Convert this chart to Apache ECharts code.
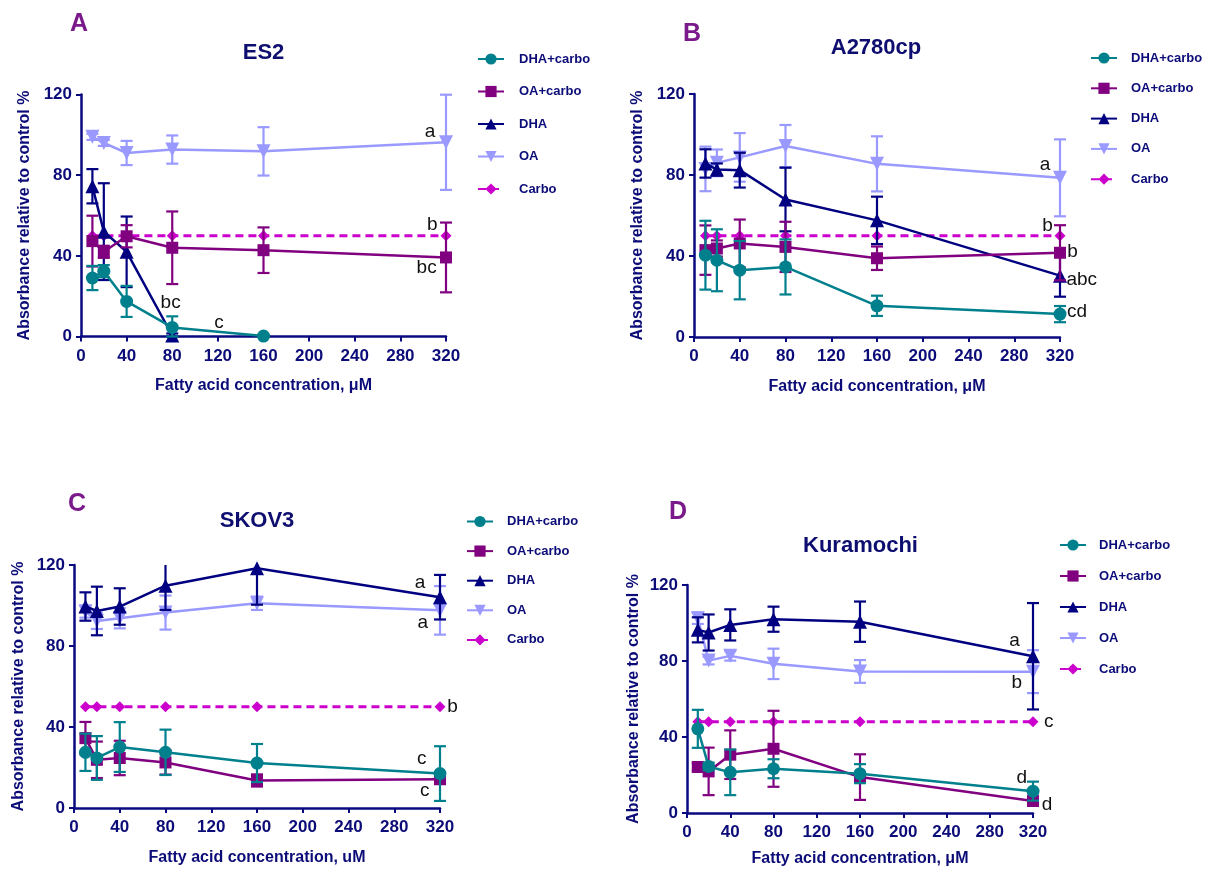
<!DOCTYPE html>
<html>
<head>
<meta charset="utf-8">
<script src="https://cdn.jsdelivr.net/npm/echarts@6/dist/echarts.min.js"></script>
<style>
  html, body { margin: 0; padding: 0; background: #ffffff; }
  #chart { width: 1211px; height: 871px; }
</style>
</head>
<body>
<div id="chart"></div>
<script>
// ---- Data: viability (% of control) vs. fatty acid concentration ----
const conc = [10, 20, 40, 80, 160, 320];
const xTicks = [0, 40, 80, 120, 160, 200, 240, 280, 320];
const groupNames = ['DHA+carbo', 'OA+carbo', 'DHA', 'OA', 'Carbo'];

// ES2
const es2DhaCarbo = [29, 32.4, 17.4, 4.5, 0.2];
const es2DhaCarboErr = [6, 3, 7.7, 5.5, 0.5];
const es2OaCarbo = [47.3, 42, 49.7, 44, 42.8, 39.2];
const es2OaCarboErr = [12.6, 3, 5.5, 18, 11.3, 17.3];
const es2Dha = [74.5, 52, 42, 0.5];
const es2DhaErr = [8.5, 24, 17.5, 1];
const es2Oa = [99, 96, 91, 92.7, 91.8, 96.3];
const es2OaErr = [1.5, 1.5, 6, 7, 12, 23.6];
const es2Carbo = [50, 50, 50, 50, 50, 50];
const es2Letters = [[306, 101.5, 'a'], [308, 55.4, 'b'], [303, 34, 'bc'], [78.6, 16.5, 'bc'], [121, 6.6, 'c']];

// A2780cp
const a2780DhaCarbo = [40.4, 37.9, 33, 34.6, 15.4, 11.3];
const a2780DhaCarboErr = [17, 15.3, 14.4, 13.6, 5, 4];
const a2780OaCarbo = [42.9, 43.7, 46.2, 44.5, 38.9, 41.6];
const a2780OaCarboErr = [12.2, 4, 11.8, 12.4, 5.8, 13.6];
const a2780Dha = [85.7, 82.7, 82.4, 67.9, 57.6, 30.3];
const a2780DhaErr = [7, 3, 8.6, 15.7, 11.7, 10.4];
const a2780Oa = [83, 86, 88.7, 94.3, 85.5, 78.6];
const a2780OaErr = [11, 6.6, 12, 10.4, 13.6, 19];
const a2780Carbo = [50, 50, 50, 50, 50, 50];
const a2780Letters = [[307, 85, 'a'], [309, 54.8, 'b'], [331, 42.1, 'b'], [339, 28.5, 'abc'], [335, 12.4, 'cd']];

// SKOV3
const skov3DhaCarbo = [27.5, 24.7, 30.1, 27.5, 22.2, 17];
const skov3DhaCarboErr = [9.2, 10.8, 12.3, 11.2, 9.4, 13.5];
const skov3OaCarbo = [34.5, 23.8, 24.7, 22.5, 13.6, 14.2];
const skov3OaCarboErr = [8, 9, 8.5, 6, 3, 2];
const skov3Dha = [99.5, 97.3, 99.5, 109.8, 118.4, 104.1];
const skov3DhaErr = [7, 12, 9, 12, 18, 11];
const skov3Oa = [97, 92.4, 93.7, 96.5, 101.1, 97.6];
const skov3OaErr = [3, 4, 5, 8.4, 3.3, 12];
const skov3Carbo = [50, 50, 50, 50, 50, 50];
const skov3Letters = [[302.5, 111.2, 'a'], [305, 91.6, 'a'], [331, 50, 'b'], [304, 24.3, 'c'], [306.7, 8.7, 'c']];

// Kuramochi
const kuraDhaCarbo = [44.3, 24.5, 21.4, 23.3, 20.7, 11.5];
const kuraDhaCarboErr = [10, 2, 12, 5, 5, 5];
const kuraOaCarbo = [24.2, 21.9, 30.7, 33.8, 18.9, 6.3];
const kuraOaCarboErr = [2, 12.5, 12.8, 20, 12, 1.5];
const kuraDha = [96.4, 95, 99, 102, 100.7, 82.5];
const kuraDhaErr = [6.6, 9.5, 8.2, 6.6, 10.6, 28];
const kuraOa = [102.5, 80.2, 82.7, 78.5, 74.5, 74.4];
const kuraOaErr = [3, 2, 2.5, 8, 6, 11.3];
const kuraCarbo = [48, 48, 48, 48, 48, 48];
const kuraLetters = [[303, 90.6, 'a'], [305, 68.6, 'b'], [334.6, 47.8, 'c'], [309.6, 18.5, 'd'], [333, 4.5, 'd']];

// ---- Panel definitions (layout kept apart from the values) ----
const panelData = [
  { letter: 'A', title: 'ES2', xName: 'Fatty acid concentration, \u03bcM',
    groups: [[es2DhaCarbo, es2DhaCarboErr], [es2OaCarbo, es2OaCarboErr], [es2Dha, es2DhaErr], [es2Oa, es2OaErr], [es2Carbo, null]],
    letters: es2Letters },
  { letter: 'B', title: 'A2780cp', xName: 'Fatty acid concentration, \u03bcM',
    groups: [[a2780DhaCarbo, a2780DhaCarboErr], [a2780OaCarbo, a2780OaCarboErr], [a2780Dha, a2780DhaErr], [a2780Oa, a2780OaErr], [a2780Carbo, null]],
    letters: a2780Letters },
  { letter: 'C', title: 'SKOV3', xName: 'Fatty acid concentration, uM',
    groups: [[skov3DhaCarbo, skov3DhaCarboErr], [skov3OaCarbo, skov3OaCarboErr], [skov3Dha, skov3DhaErr], [skov3Oa, skov3OaErr], [skov3Carbo, null]],
    letters: skov3Letters },
  { letter: 'D', title: 'Kuramochi', xName: 'Fatty acid concentration, \u03bcM',
    groups: [[kuraDhaCarbo, kuraDhaCarboErr], [kuraOaCarbo, kuraOaCarboErr], [kuraDha, kuraDhaErr], [kuraOa, kuraOaErr], [kuraCarbo, null]],
    letters: kuraLetters }
];

const layout = [
  { grid: { left: 81, top: 94.5, width: 365, height: 242 }, yGap: 48, xGap: 41,
    letterPos: [70, 12], titlePos: [263.5, 42], legend: { left: 477, top: 52, gap: 18.5, textGap: 15 } },
  { grid: { left: 694, top: 94, width: 366, height: 243 }, yGap: 48, xGap: 42,
    letterPos: [683, 22], titlePos: [876, 37], legend: { left: 1090, top: 51, gap: 16.3, textGap: 14 } },
  { grid: { left: 74, top: 565, width: 366, height: 243 }, yGap: 47, xGap: 42,
    letterPos: [68, 492], titlePos: [257, 510], legend: { left: 466, top: 514.5, gap: 15.6, textGap: 14 } },
  { grid: { left: 687, top: 585, width: 346, height: 228 }, yGap: 45, xGap: 38,
    letterPos: [669, 500], titlePos: [860.5, 535], legend: { left: 1059, top: 538, gap: 17, textGap: 13 } }
];

const groupStyle = [
  { color: '#00808c', symbol: 'circle', size: 13, rotate: 0, dash: 'solid' },
  { color: '#800080', symbol: 'rect', size: 12, rotate: 0, dash: 'solid' },
  { color: '#000080', symbol: 'triangle', size: 14, rotate: 0, dash: 'solid' },
  { color: '#9999ff', symbol: 'triangle', size: 14, rotate: 180, dash: 'solid' },
  { color: '#cc00cc', symbol: 'diamond', size: 11, rotate: 0, dash: [8, 5] }
];
// drawing order: Carbo at the back, DHA+carbo in front
const zOrder = [10, 8, 6, 4, 2];

const FONT = '"Liberation Sans", Arial, Helvetica, sans-serif';
const NAVY = '#0c0c78';
const AXIS = '#0a0a80';
const Y_MAX = 120;

const grids = [], xAxes = [], yAxes = [], series = [], titles = [], legends = [];

panelData.forEach((pd, p) => {
  const L = layout[p];
  grids.push(Object.assign({ containLabel: false }, L.grid));

  xAxes.push({
    gridIndex: p, type: 'value', min: 0, max: 320, interval: 40,
    name: pd.xName, nameLocation: 'middle', nameGap: L.xGap,
    nameTextStyle: { color: NAVY, fontFamily: FONT, fontWeight: 'bold', fontSize: 16 },
    axisLine: { show: true, lineStyle: { color: AXIS, width: 2.5 } },
    axisTick: { show: true, inside: false, length: 5, lineStyle: { color: AXIS, width: 2 } },
    axisLabel: { color: NAVY, fontFamily: FONT, fontWeight: 'bold', fontSize: 17, margin: 11,
                 customValues: xTicks },
    splitLine: { show: false }
  });
  yAxes.push({
    gridIndex: p, type: 'value', min: 0, max: Y_MAX, interval: 40,
    name: 'Absorbance relative to control %', nameLocation: 'middle', nameGap: L.yGap,
    nameTextStyle: { color: NAVY, fontFamily: FONT, fontWeight: 'bold', fontSize: 16 },
    axisLine: { show: true, lineStyle: { color: AXIS, width: 2.5 } },
    axisTick: { show: true, inside: false, length: 5, lineStyle: { color: AXIS, width: 2 } },
    axisLabel: { color: NAVY, fontFamily: FONT, fontWeight: 'bold', fontSize: 17, margin: 9 },
    splitLine: { show: false }
  });

  titles.push({
    text: pd.letter, left: L.letterPos[0], top: L.letterPos[1], padding: 0,
    textStyle: { color: '#7a1a8a', fontFamily: FONT, fontWeight: 'bold', fontSize: 25 }
  });
  titles.push({
    text: pd.title, left: L.titlePos[0], top: L.titlePos[1], padding: 0, textAlign: 'center',
    textStyle: { color: '#0e0e70', fontFamily: FONT, fontWeight: 'bold', fontSize: 22 }
  });

  legends.push({
    data: groupNames, orient: 'vertical', left: L.legend.left, top: L.legend.top,
    itemWidth: 26, itemHeight: 14, itemGap: L.legend.gap, padding: 0,
    selectedMode: false,
    textStyle: { color: NAVY, fontFamily: FONT, fontWeight: 'bold', fontSize: 13,
                 padding: [0, 0, 0, L.legend.textGap - 5], lineHeight: 14 }
  });

  pd.groups.forEach(([means, errs], g) => {
    const st = groupStyle[g];
    const pts = means.map((v, i) => [conc[i], v]);
    const z = zOrder[g];

    if (errs) {
      const bars = errs.map((e, i) => [conc[i], means[i] - e, means[i] + e, e]).filter(b => b[3] > 0);
      series.push({
        type: 'custom', name: pd.title + ' ' + groupNames[g] + ' SEM',
        xAxisIndex: p, yAxisIndex: p, z: z, silent: true,
        encode: { x: 0, y: [1, 2] },
        data: bars,
        renderItem: (params, api) => {
          const x = api.value(0);
          const lo = Math.max(api.value(1), 0);
          const hiRaw = api.value(2);
          const hi = Math.min(hiRaw, Y_MAX);
          const top = api.coord([x, hi]);
          const bot = api.coord([x, lo]);
          const hw = 6;
          const style = { stroke: st.color, lineWidth: 2.2 };
          const children = [
            { type: 'line', shape: { x1: top[0], y1: top[1], x2: bot[0], y2: bot[1] }, style: style },
            { type: 'line', shape: { x1: bot[0] - hw, y1: bot[1], x2: bot[0] + hw, y2: bot[1] }, style: style }
          ];
          if (hiRaw <= Y_MAX) {
            children.push({ type: 'line', shape: { x1: top[0] - hw, y1: top[1], x2: top[0] + hw, y2: top[1] }, style: style });
          }
          return { type: 'group', children: children };
        }
      });
    }

    series.push({
      type: 'line', name: groupNames[g], xAxisIndex: p, yAxisIndex: p, z: z + 1,
      data: pts, symbol: st.symbol, symbolSize: st.size, symbolRotate: st.rotate,
      showSymbol: true, animation: false, silent: true,
      lineStyle: { color: st.color, width: g === 4 ? 3 : 2.5, type: st.dash },
      itemStyle: { color: st.color, borderWidth: 0 }
    });
  });

  // significance letters, placed in data coordinates
  series.push({
    type: 'custom', name: pd.title + ' letters', xAxisIndex: p, yAxisIndex: p, z: 20,
    silent: true, clip: false,
    data: pd.letters,
    encode: { x: 0, y: 1 },
    renderItem: (params, api) => {
      const c = api.coord([api.value(0), api.value(1)]);
      return {
        type: 'text', x: c[0], y: c[1],
        style: { text: pd.letters[params.dataIndex][2], fill: '#111111',
                 font: '19px ' + FONT, align: 'center', verticalAlign: 'middle' }
      };
    }
  });
});

const chart = echarts.init(document.getElementById('chart'), null, { renderer: 'canvas' });
chart.setOption({
  animation: false,
  backgroundColor: '#ffffff',
  title: titles,
  legend: legends,
  grid: grids,
  xAxis: xAxes,
  yAxis: yAxes,
  series: series
});
</script>
</body>
</html>
